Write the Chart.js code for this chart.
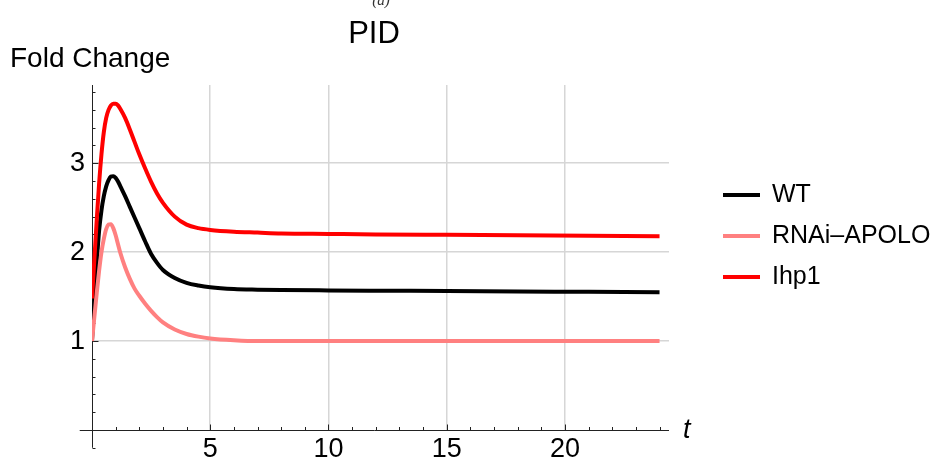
<!DOCTYPE html>
<html>
<head>
<meta charset="utf-8">
<script src="https://cdn.jsdelivr.net/npm/chart.js@4"></script>
<style>
html,body{margin:0;padding:0;background:#ffffff;}
#wrap{width:933px;height:464px;position:relative;}
</style>
</head>
<body>
<div id="wrap"><canvas id="c" width="933" height="464"></canvas></div>
<script>
// ---- data ----
const timePoints   = [0, 0.1, 0.2, 0.3, 0.4, 0.5, 0.6, 0.7, 0.8, 0.9, 1.0, 1.1, 1.2, 1.4, 1.6, 1.8, 2.0, 2.25, 2.5, 2.75, 3.0, 3.5, 4, 4.5, 5, 6, 7, 8, 10, 12, 15, 18, 21, 24];
const wtValues     = [1.0, 1.45, 1.88, 2.24, 2.47, 2.63, 2.74, 2.81, 2.85, 2.855, 2.835, 2.795, 2.74, 2.63, 2.51, 2.39, 2.27, 2.12, 1.98, 1.88, 1.80, 1.71, 1.655, 1.625, 1.605, 1.585, 1.578, 1.574, 1.57, 1.567, 1.563, 1.558, 1.554, 1.55];
const rnaiValues   = [1.0, 1.27, 1.54, 1.79, 2.0, 2.15, 2.26, 2.31, 2.315, 2.27, 2.19, 2.09, 1.99, 1.83, 1.70, 1.59, 1.51, 1.42, 1.34, 1.27, 1.21, 1.13, 1.08, 1.05, 1.03, 1.01, 1.0, 1.0, 1.0, 1.0, 1.0, 1.0, 1.0, 1.0];
const ihp1Values   = [1.48, 1.92, 2.36, 2.77, 3.10, 3.35, 3.51, 3.60, 3.65, 3.67, 3.67, 3.65, 3.61, 3.51, 3.38, 3.24, 3.10, 2.94, 2.79, 2.66, 2.555, 2.40, 2.31, 2.27, 2.25, 2.23, 2.22, 2.21, 2.205, 2.20, 2.195, 2.19, 2.185, 2.18];
const seriesLabels = ['WT', 'RNAi\u2013APOLO', 'Ihp1'];
const xTickValues  = [5, 10, 15, 20];
const yTickValues  = [1, 2, 3];
const chartTitle   = 'PID';
const yAxisLabel   = 'Fold Change';
const xAxisLabel   = 't';

const FONT = '"Liberation Sans", Arial, Helvetica, sans-serif';
const X_MIN = 0, X_MAX = 24.4, X_AXIS_FROM = -0.52;
const Y_MIN = 0, Y_MAX = 3.88, Y_AXIS_FROM = -0.2;

function pts(vals){ return timePoints.map((t,i)=>({x:t, y:vals[i]})); }

const axesPlugin = {
  id: 'mAxes',
  beforeDatasetsDraw(chart){
    const {ctx, scales:{x, y}} = chart;
    const x0 = Math.round(x.getPixelForValue(0)) + 0.5;
    const y0 = Math.round(y.getPixelForValue(0)) + 0.5;
    ctx.save();
    ctx.strokeStyle = '#222222';
    ctx.lineWidth = 1;
    ctx.beginPath();
    ctx.moveTo(x.getPixelForValue(X_AXIS_FROM), y0);
    ctx.lineTo(x.getPixelForValue(X_MAX), y0);
    ctx.moveTo(x0, y.getPixelForValue(Y_AXIS_FROM));
    ctx.lineTo(x0, y.getPixelForValue(Y_MAX));
    for (let v = 1; v <= 24; v++) {
      const px = Math.round(x.getPixelForValue(v)) + 0.5;
      const len = (v % 5 === 0) ? 6 : 3.5;
      ctx.moveTo(px, y0); ctx.lineTo(px, y0 - len);
    }
    for (let k = -1; k <= 19; k++) {
      if (k === 0) continue;
      const py = Math.round(y.getPixelForValue(k * 0.2)) + 0.5;
      const len = (k % 5 === 0) ? 6 : 3;
      ctx.moveTo(x0, py); ctx.lineTo(x0 + len, py);
    }
    ctx.stroke();
    ctx.restore();
  },
  afterDraw(chart){
    const {ctx} = chart;
    ctx.save();
    ctx.fillStyle = '#000';
    ctx.textBaseline = 'alphabetic';
    ctx.textAlign = 'center';
    ctx.font = '31px ' + FONT;
    ctx.fillText(chartTitle, 374, 43);
    ctx.font = 'italic 15px "Liberation Serif", serif';
    ctx.fillStyle = '#333';
    ctx.fillText('(a)', 381, 5);
    ctx.fillStyle = '#000';
    ctx.textAlign = 'left';
    ctx.font = '28px ' + FONT;
    ctx.fillText(yAxisLabel, 10, 67);
    ctx.font = 'italic 27px ' + FONT;
    ctx.fillText(xAxisLabel, 683, 438);
    // legend
    chart.data.datasets.forEach((ds, i) => {
      const yy = 195 + i * 41;
      ctx.strokeStyle = ds.borderColor;
      ctx.lineWidth = 4;
      ctx.beginPath();
      ctx.moveTo(723, yy); ctx.lineTo(760, yy);
      ctx.stroke();
      ctx.fillStyle = '#000';
      ctx.font = '25px ' + FONT;
      ctx.textBaseline = 'middle';
      ctx.fillText(ds.label, 772, yy);
    });
    ctx.restore();
  }
};

const gridOpts = {color: '#d6d6d6', lineWidth: 1.5, drawTicks: false};

new Chart(document.getElementById('c'), {
  type: 'line',
  data: {
    datasets: [
      {label: seriesLabels[0], data: pts(wtValues),   borderColor: '#000000', order: 2},
      {label: seriesLabels[1], data: pts(rnaiValues), borderColor: '#ff8080', order: 1},
      {label: seriesLabels[2], data: pts(ihp1Values), borderColor: '#ff0000', order: 0}
    ]
  },
  options: {
    responsive: false,
    animation: false,
    devicePixelRatio: 1,
    layout: {padding: {left: 0, right: 264, top: 85, bottom: 0}},
    elements: {
      point: {radius: 0},
      line: {borderWidth: 4, cubicInterpolationMode: 'monotone', fill: false}
    },
    plugins: {legend: {display: false}, title: {display: false}, tooltip: {enabled: false}},
    scales: {
      x: {
        type: 'linear', min: X_MIN, max: X_MAX,
        afterBuildTicks: s => { s.ticks = xTickValues.map(v => ({value: v})); },
        afterFit: s => { s.height = 34; },
        grid: gridOpts,
        border: {display: false},
        ticks: {font: {family: FONT, size: 27}, color: '#000', padding: 3, maxRotation: 0, autoSkip: false}
      },
      y: {
        type: 'linear', min: Y_MIN, max: Y_MAX,
        afterBuildTicks: s => { s.ticks = yTickValues.map(v => ({value: v})); },
        afterFit: s => { s.width = 92; },
        grid: gridOpts,
        border: {display: false},
        ticks: {font: {family: FONT, size: 27}, color: '#000', padding: 7, autoSkip: false}
      }
    }
  },
  plugins: [axesPlugin]
});
</script>
</body>
</html>
